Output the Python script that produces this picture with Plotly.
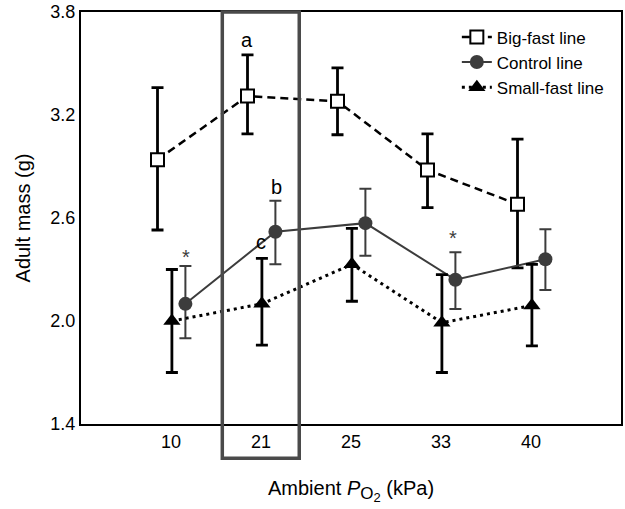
import plotly.graph_objects as go

categories = ["10", "21", "25", "33", "40"]

big_mean = [2.94, 3.31, 3.28, 2.88, 2.68]
big_hi = [3.36, 3.55, 3.475, 3.09, 3.06]
big_lo = [2.53, 3.09, 3.085, 2.66, 2.31]

ctrl_mean = [2.10, 2.52, 2.57, 2.24, 2.36]
ctrl_hi = [2.32, 2.70, 2.77, 2.40, 2.535]
ctrl_lo = [1.90, 2.33, 2.38, 2.07, 2.18]

small_mean = [2.00, 2.10, 2.33, 1.99, 2.09]
small_hi = [2.30, 2.365, 2.54, 2.27, 2.33]
small_lo = [1.70, 1.86, 2.115, 1.70, 1.855]

pos = list(range(1, len(categories) + 1))

def err(mean, hi, lo):
    return dict(type="data", symmetric=False,
                array=[h - m for h, m in zip(hi, mean)],
                arrayminus=[m - l for m, l in zip(mean, lo)])

GRAY = "#3c3c3c"
FONT = "Liberation Sans, Arial, sans-serif"

fig = go.Figure()

fig.add_trace(go.Scatter(
    x=[p - 0.15 for p in pos], y=big_mean, name="Big-fast line",
    mode="lines+markers",
    line=dict(color="black", width=2.5, dash="8px,5px"),
    marker=dict(symbol="square", size=13, color="white", line=dict(color="black", width=2)),
    error_y=dict(**err(big_mean, big_hi, big_lo), color="black", thickness=2.8, width=6),
))
fig.add_trace(go.Scatter(
    x=[p + 0.16 for p in pos], y=ctrl_mean, name="Control line",
    mode="lines+markers",
    line=dict(color=GRAY, width=2),
    marker=dict(symbol="circle", size=14, color=GRAY),
    error_y=dict(**err(ctrl_mean, ctrl_hi, ctrl_lo), color=GRAY, thickness=2, width=6),
))
fig.add_trace(go.Scatter(
    x=[p + 0.01 for p in pos], y=small_mean, name="Small-fast line",
    mode="lines+markers",
    line=dict(color="black", width=3, dash="3px,4px"),
    marker=dict(symbol="triangle-up", size=15, color="black"),
    error_y=dict(**err(small_mean, small_hi, small_lo), color="black", thickness=2.8, width=6),
))

# highlighted 21 kPa box
fig.add_shape(type="rect", xref="x", yref="paper", x0=1.57, x1=2.425, y0=-0.083, y1=1.0,
              line=dict(color="#4a4a4a", width=3.5), fillcolor="rgba(0,0,0,0)", layer="above")

font_txt = dict(family=FONT, size=20, color="black")
font_star = dict(family=FONT, size=20, color=GRAY)
fig.add_annotation(x=1.849, y=3.637, text="a", showarrow=False, font=font_txt)
fig.add_annotation(x=2.17, y=2.783, text="b", showarrow=False, font=font_txt)
fig.add_annotation(x=2.004, y=2.458, text="c", showarrow=False, font=font_txt)
fig.add_annotation(x=1.162, y=2.37, text="*", showarrow=False, font=font_star)
fig.add_annotation(x=4.13, y=2.486, text="*", showarrow=False, font=font_star)

xtitle = ('Ambient <i>P</i><sub><span style="font-size:17px">O'
          '<sub><span style="font-size:13px">2</span></sub></span></sub> (kPa)')

fig.update_layout(
    width=625, height=509,
    margin=dict(l=81, r=2, t=11, b=85),
    paper_bgcolor="white", plot_bgcolor="white",
    font=dict(family=FONT, size=18, color="black"),
    showlegend=True,
    legend=dict(x=0.696, y=0.982, xanchor="left", yanchor="top",
                bgcolor="rgba(0,0,0,0)", font=dict(size=17), tracegroupgap=0),
    xaxis=dict(range=[0, 6], tickmode="array", tickvals=pos, ticktext=categories,
               tickfont=dict(size=18),
               showgrid=False, zeroline=False, showline=True, linecolor="black",
               linewidth=2, mirror=True, ticks="",
               title=dict(text=xtitle, font=dict(size=20), standoff=30)),
    yaxis=dict(range=[1.4, 3.8], tickvals=[1.4, 2.0, 2.6, 3.2, 3.8],
               ticktext=["1.4", "2.0", "2.6", "3.2", "3.8"],
               tickfont=dict(size=18),
               showgrid=False, zeroline=False, showline=True, linecolor="black",
               linewidth=2, mirror=True, ticks="",
               title=dict(text="Adult mass (g)", font=dict(size=20), standoff=14)),
)

fig.write_html("out.html", config={"displayModeBar": False},
               post_script="document.body.style.margin='0px';")
